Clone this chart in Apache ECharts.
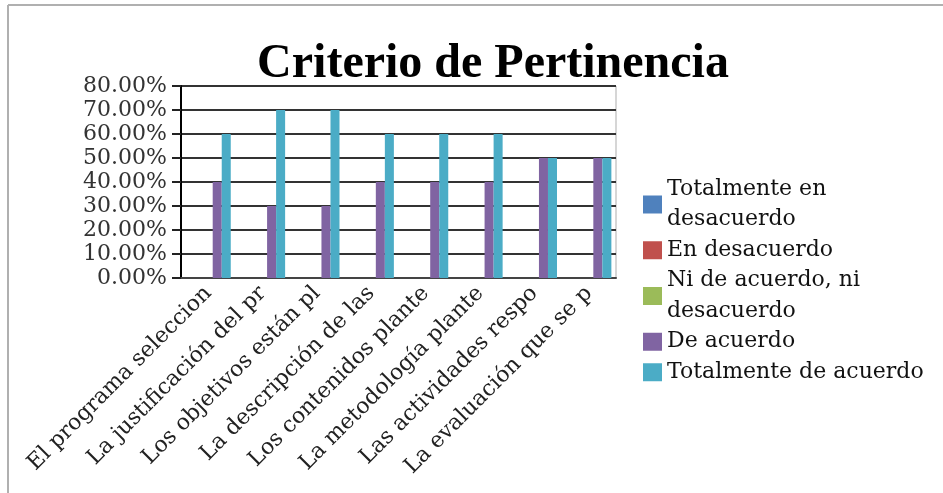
<!DOCTYPE html>
<html>
<head>
<meta charset="utf-8">
<script src="https://cdn.jsdelivr.net/npm/echarts@6/dist/echarts.min.js"></script>
<style>html,body{margin:0;padding:0;background:#fff}#c{width:943px;height:493px}</style>
</head>
<body>
<div id="c"></div>
<script>
var categories = [
  "El programa seleccion",
  "La justificación del pr",
  "Los objetivos están pl",
  "La descripción de las",
  "Los contenidos plante",
  "La metodología plante",
  "Las actividades respo",
  "La evaluación que se p"
];
var seriesNames = ["Totalmente en desacuerdo", "En desacuerdo", "Ni de acuerdo, ni desacuerdo", "De acuerdo", "Totalmente de acuerdo"];
var totalDesacuerdo = [0, 0, 0, 0, 0, 0, 0, 0];
var enDesacuerdo = [0, 0, 0, 0, 0, 0, 0, 0];
var niNi = [0, 0, 0, 0, 0, 0, 0, 0];
var deAcuerdo = [0.40, 0.30, 0.30, 0.40, 0.40, 0.40, 0.50, 0.50];
var totalAcuerdo = [0.60, 0.70, 0.70, 0.60, 0.60, 0.60, 0.50, 0.50];
var colors = ["#4f81bd", "#c0504d", "#9bbb59", "#8064a2", "#4bacc6"];

var dataSets = [totalDesacuerdo, enDesacuerdo, niNi, deAcuerdo, totalAcuerdo];
var chart = echarts.init(document.getElementById('c'), null, {renderer: 'canvas'});
var series = seriesNames.map(function (n, i) {
  return {
    name: n, type: 'bar', data: dataSets[i],
    barGap: '0%', barCategoryGap: '17%',
    itemStyle: {color: colors[i]}
  };
});
chart.setOption({
  animation: false,
  backgroundColor: '#fff',
  title: {
    text: 'Criterio de Pertinencia',
    left: 488, top: 36, textAlign: 'center',
    textStyle: {fontFamily: 'Liberation Serif', fontWeight: 'bold', fontSize: 48, color: '#000'}
  },
  graphic: [
    {type: 'line', shape: {x1: 8, y1: 5, x2: 943, y2: 5}, style: {stroke: '#b0b0b0', lineWidth: 2}},
    {type: 'line', shape: {x1: 8, y1: 5, x2: 8, y2: 493}, style: {stroke: '#b0b0b0', lineWidth: 2}},
    {type: 'line', shape: {x1: 616, y1: 86, x2: 616, y2: 278}, style: {stroke: '#c8c8c8', lineWidth: 1.5}}
  ],
  legend: {
    orient: 'vertical', left: 638, top: 169,
    itemWidth: 19, itemHeight: 18, itemGap: 0,
    icon: 'rect',
    textStyle: {fontFamily: 'DejaVu Serif', fontSize: 22, color: '#111', lineHeight: 30.5, width: 275, overflow: 'break'},
    data: seriesNames
  },
  grid: {left: 181, right: 327, top: 86, bottom: 215, containLabel: false},
  xAxis: {
    type: 'category', data: categories,
    axisLine: {lineStyle: {color: '#444', width: 2}},
    axisTick: {show: false},
    axisLabel: {rotate: 45, interval: 0, margin: 12, fontFamily: 'DejaVu Serif', fontSize: 22, color: '#222'}
  },
  yAxis: {
    type: 'value', min: 0, max: 0.8, interval: 0.1,
    axisLine: {show: true, lineStyle: {color: '#000', width: 2}},
    axisTick: {show: true, length: 9, lineStyle: {color: '#222', width: 2}},
    axisLabel: {
      margin: 14, fontFamily: 'DejaVu Serif', fontSize: 22, color: '#333',
      formatter: function (v) { return (v * 100).toFixed(2) + '%'; }
    },
    splitLine: {lineStyle: {color: '#333', width: 2}}
  },
  series: series
});
</script>
</body>
</html>
